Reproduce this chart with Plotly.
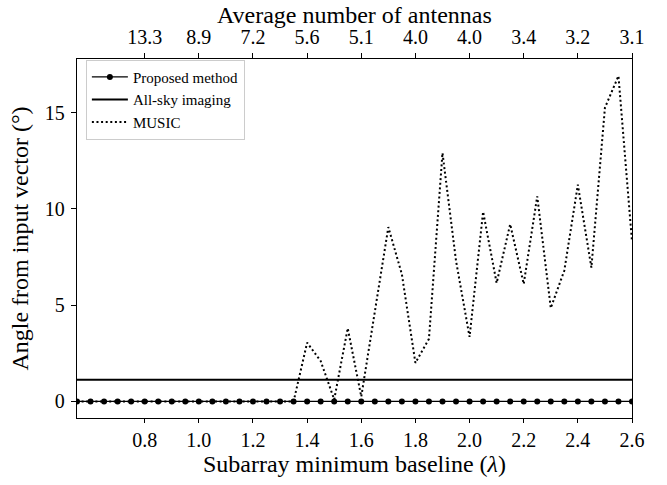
import plotly.graph_objects as go

# ---- data ----
baseline = [0.55, 0.60, 0.65, 0.70, 0.75, 0.80, 0.85, 0.90, 0.95, 1.00,
            1.05, 1.10, 1.15, 1.20, 1.25, 1.30, 1.35, 1.40, 1.45, 1.50,
            1.55, 1.60, 1.65, 1.70, 1.75, 1.80, 1.85, 1.90, 1.95, 2.00,
            2.05, 2.10, 2.15, 2.20, 2.25, 2.30, 2.35, 2.40, 2.45, 2.50,
            2.55, 2.60]
proposed = [0.0] * 42
allsky = [1.13] * 42
music = [0, 0, 0, 0, 0, 0, 0, 0, 0, 0,
         0, 0, 0, 0, 0, 0, 0, 3.05, 2.1, 0.1,
         3.8, 0.25, 4.6, 9.05, 6.6, 2.0, 3.25, 12.9, 7.3, 3.35,
         9.85, 6.15, 9.2, 6.1, 10.65, 4.85, 6.8, 11.25, 6.95, 15.25,
         16.9, 8.3]

bottom_ticks = [0.8, 1.0, 1.2, 1.4, 1.6, 1.8, 2.0, 2.2, 2.4, 2.6]
bottom_labels = ["0.8", "1.0", "1.2", "1.4", "1.6", "1.8", "2.0", "2.2", "2.4", "2.6"]
top_labels = ["13.3", "8.9", "7.2", "5.6", "5.1", "4.0", "4.0", "3.4", "3.2", "3.1"]
y_ticks = [0, 5, 10, 15]

FONT = "Liberation Serif"
TICK = 20
TITLE = 24
XR = [0.55, 2.6]
YR = [-0.86, 17.78]

fig = go.Figure()
fig.add_trace(go.Scatter(x=baseline, y=proposed, mode="lines+markers",
                         name="Proposed method",
                         line=dict(color="black", width=1.2),
                         marker=dict(color="black", size=6)))
fig.add_trace(go.Scatter(x=baseline, y=allsky, mode="lines",
                         name="All-sky imaging",
                         line=dict(color="black", width=2)))
fig.add_trace(go.Scatter(x=baseline, y=music, mode="lines",
                         name="MUSIC",
                         line=dict(color="black", width=2, dash="2px,2.6px")))
# invisible trace to anchor the top axis
fig.add_trace(go.Scatter(x=XR, y=YR, xaxis="x2", mode="markers",
                         marker=dict(opacity=0), showlegend=False,
                         hoverinfo="skip"))

fig.update_layout(
    width=667, height=485,
    margin=dict(l=77, r=35, t=59, b=62),
    paper_bgcolor="white", plot_bgcolor="white",
    font=dict(family=FONT, color="black", size=TICK),
    xaxis=dict(range=XR, tickvals=bottom_ticks, ticktext=bottom_labels,
               showgrid=False, zeroline=False,
               showline=True, linecolor="black", linewidth=1.3, mirror=True,
               ticks="outside", ticklen=4, tickwidth=1.2, tickcolor="black",
               tickfont=dict(size=TICK, family=FONT),
               title=dict(text="Subarray minimum baseline (<i>λ</i>)",
                          font=dict(size=TITLE, family=FONT), standoff=5)),
    xaxis2=dict(range=XR, overlaying="x", side="top", anchor="y",
                tickvals=bottom_ticks, ticktext=top_labels,
                showgrid=False, zeroline=False, showline=False,
                ticks="outside", ticklen=5, tickwidth=1.2, tickcolor="black",
                tickfont=dict(size=TICK, family=FONT), ticklabelstandoff=1),
    yaxis=dict(range=YR, tickvals=y_ticks,
               showgrid=False, zeroline=False,
               showline=True, linecolor="black", linewidth=1.3, mirror=True,
               ticks="outside", ticklen=5, tickwidth=1.2, tickcolor="black",
               tickfont=dict(size=TICK, family=FONT), ticklabelstandoff=2,
               title=dict(text="Angle from input vector (°)",
                          font=dict(size=TITLE, family=FONT), standoff=9)),
    legend=dict(x=0.016, y=0.998, xanchor="left", yanchor="top",
                bgcolor="rgba(255,255,255,0.8)", bordercolor="#cccccc",
                borderwidth=1, font=dict(size=15, family=FONT),
                tracegroupgap=0, itemwidth=36),
    annotations=[dict(text="Average number of antennas", xref="paper",
                      yref="paper", x=0.5, y=1, xanchor="center",
                      yanchor="top", yshift=58, showarrow=False,
                      borderpad=0,
                      font=dict(size=TITLE, family=FONT))],
    showlegend=True,
)

fig.write_html("out.html")
